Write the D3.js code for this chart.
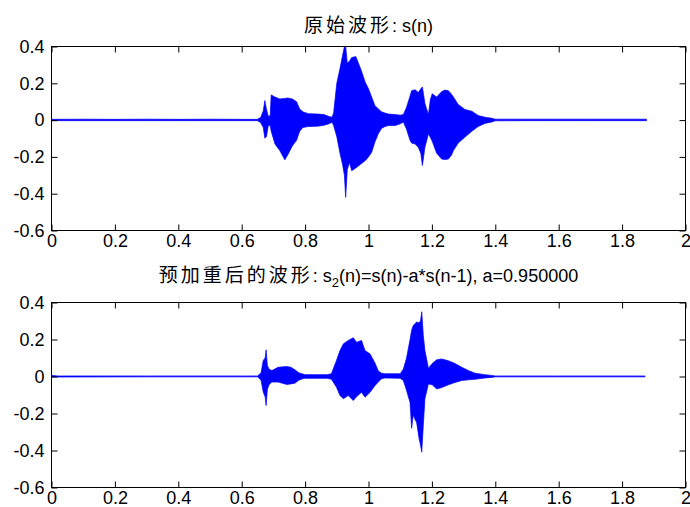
<!DOCTYPE html>
<html>
<head>
<meta charset="utf-8">
<script src="https://cdn.jsdelivr.net/npm/d3@7/dist/d3.min.js"></script>
<style>
  body { margin: 0; background: #fff; }
  text { font-family: "Liberation Sans", Arial, sans-serif; }
</style>
</head>
<body>
<div id="canvas"></div>
<script>
// tick values
var xTicks = [0, 0.2, 0.4, 0.6, 0.8, 1, 1.2, 1.4, 1.6, 1.8, 2];
var yTicks = [-0.6, -0.4, -0.2, 0, 0.2, 0.4];

// original waveform s(n): envelope (time in s, upper, lower)
var topT  = [0, 0.1, 0.2, 0.3, 0.4, 0.5, 0.6, 0.65, 0.66, 0.668, 0.673, 0.678, 0.684, 0.69, 0.693,
             0.705, 0.72, 0.736, 0.745, 0.76, 0.773, 0.783, 0.793, 0.81, 0.84, 0.86, 0.875, 0.885, 0.89,
             0.9, 0.91, 0.918, 0.924, 0.928, 0.933, 0.94, 0.947, 0.96, 0.975, 0.99, 1.0, 1.01, 1.02, 1.031, 1.041,
             1.052, 1.063, 1.084, 1.1, 1.11, 1.12, 1.131, 1.136, 1.147, 1.157, 1.165, 1.17, 1.178, 1.189, 1.195, 1.201,
             1.215, 1.231, 1.241, 1.252, 1.262, 1.268, 1.283, 1.304, 1.326, 1.346, 1.367, 1.389, 1.4,
             1.5, 1.6, 1.7, 1.8, 1.877];
var topHi = [0.004, 0.005, 0.004, 0.005, 0.004, 0.005, 0.004, 0.004, 0.015, 0.05, 0.106, 0.06, 0.02, 0.025, 0.137,
             0.125, 0.115, 0.118, 0.12, 0.115, 0.10, 0.06, 0.045, 0.035, 0.033, 0.03, 0.02, 0.015, 0.04,
             0.20, 0.28, 0.35, 0.40, 0.40, 0.31, 0.32, 0.34, 0.345, 0.28, 0.205, 0.17, 0.125, 0.08, 0.061, 0.045,
             0.038, 0.033, 0.03, 0.027, 0.03, 0.07, 0.13, 0.16, 0.165, 0.15, 0.17, 0.18, 0.09, 0.03, 0.11, 0.143,
             0.125, 0.155, 0.163, 0.16, 0.14, 0.125, 0.085, 0.058, 0.048, 0.025, 0.016, 0.01, 0.005,
             0.005, 0.005, 0.005, 0.005, 0.005];
var topLo = [-0.003, -0.003, -0.003, -0.003, -0.003, -0.003, -0.003, -0.003, -0.015, -0.04, -0.098, -0.09, -0.03, -0.03, -0.06,
             -0.13, -0.165, -0.216, -0.19, -0.14, -0.11, -0.06, -0.04, -0.035, -0.033, -0.028, -0.02, -0.012, -0.03,
             -0.09, -0.18, -0.24, -0.30, -0.42, -0.27, -0.23, -0.275, -0.26, -0.24, -0.22, -0.20, -0.175, -0.12, -0.074, -0.045,
             -0.035, -0.03, -0.03, -0.02, -0.011, -0.05, -0.11, -0.125, -0.13, -0.147, -0.18, -0.247, -0.147, -0.075, -0.093, -0.115,
             -0.18, -0.212, -0.214, -0.212, -0.19, -0.165, -0.125, -0.093, -0.06, -0.035, -0.018, -0.01, -0.004,
             -0.003, -0.003, -0.003, -0.003, -0.003];

// pre-emphasised waveform s2(n): envelope
var botT  = [0, 0.02, 0.3, 0.6, 0.65, 0.661, 0.668, 0.674, 0.677, 0.681, 0.686, 0.695, 0.715,
             0.742, 0.755, 0.768, 0.78, 0.79, 0.80, 0.87, 0.883, 0.899, 0.91, 0.921, 0.936, 0.952, 0.962, 0.978, 0.989,
             1.005, 1.02, 1.031, 1.041, 1.052, 1.1, 1.11, 1.12, 1.131, 1.136, 1.141, 1.152, 1.159, 1.164, 1.168, 1.173,
             1.178, 1.189, 1.201, 1.215, 1.231, 1.252, 1.273, 1.294, 1.315, 1.336, 1.367, 1.389, 1.4, 1.6, 1.872];
var botHi = [0.006, 0.003, 0.003, 0.003, 0.003, 0.02, 0.087, 0.10, 0.144, 0.06, 0.04, 0.032, 0.05,
             0.054, 0.05, 0.036, 0.02, 0.015, 0.01, 0.01, 0.015, 0.087, 0.14, 0.177, 0.195, 0.21, 0.185, 0.195, 0.14,
             0.122, 0.075, 0.03, 0.018, 0.015, 0.015, 0.04, 0.10, 0.2, 0.25, 0.276, 0.294, 0.29, 0.30, 0.35, 0.22,
             0.14, 0.045, 0.07, 0.09, 0.095, 0.085, 0.07, 0.05, 0.032, 0.018, 0.01, 0.006, 0.003, 0.003, 0.003];
var botLo = [-0.003, -0.003, -0.002, -0.002, -0.002, -0.02, -0.085, -0.11, -0.157, -0.07, -0.045, -0.03, -0.03,
             -0.043, -0.04, -0.036, -0.02, -0.013, -0.01, -0.01, -0.015, -0.058, -0.103, -0.12, -0.103, -0.13, -0.11, -0.085, -0.112,
             -0.085, -0.05, -0.03, -0.012, -0.008, -0.01, -0.022, -0.076, -0.14, -0.28, -0.21, -0.25, -0.33, -0.37, -0.409, -0.26,
             -0.12, -0.04, -0.045, -0.067, -0.06, -0.045, -0.032, -0.022, -0.018, -0.015, -0.008, -0.005, -0.002, -0.002, -0.002];

var outerWidth = 690, outerHeight = 507;

var svg = d3.select('#canvas')
    .append('svg')
    .attr('width', outerWidth)
    .attr('height', outerHeight);

var scaleX = d3.scaleLinear().domain([0, 2]).range([51.5, 685.5]);
var fmt = function(d){ return String(+d.toFixed(1)); };

function drawPanel(id, top, bottom, T, HI, LO, titleY, titleCJK, titleRest){
    var scaleY = d3.scaleLinear().domain([-0.6, 0.4]).range([bottom, top]);
    var rows = T.map(function(t, i){ return {t: t, hi: HI[i], lo: LO[i]}; });

    svg.append('clipPath').attr('id', 'clip-' + id)
        .append('rect')
        .attr('x', scaleX(0)).attr('y', top)
        .attr('width', scaleX(2) - scaleX(0)).attr('height', bottom - top);

    var area = d3.area()
        .x(function(d){ return scaleX(d.t); })
        .y0(function(d){ return scaleY(d.lo); })
        .y1(function(d){ return scaleY(d.hi); });

    svg.append('path')
        .datum(rows)
        .attr('clip-path', 'url(#clip-' + id + ')')
        .attr('d', area)
        .attr('fill', '#0000ff')
        .attr('stroke', '#0000ff')
        .attr('stroke-width', 0.7);

    var axisB = d3.axisBottom(scaleX).tickValues(xTicks).tickFormat(fmt).tickSize(-6).tickSizeOuter(0).tickPadding(4);
    var axisT = d3.axisTop(scaleX).tickValues(xTicks).tickFormat('').tickSize(-6).tickSizeOuter(0);
    var axisL = d3.axisLeft(scaleY).tickValues(yTicks).tickFormat(fmt).tickSize(-6).tickSizeOuter(0).tickPadding(7);
    var axisR = d3.axisRight(scaleY).tickValues(yTicks).tickFormat('').tickSize(-6).tickSizeOuter(0);

    var axes = [
        [axisB, 'translate(0,' + bottom + ')'],
        [axisT, 'translate(0,' + top + ')'],
        [axisL, 'translate(' + scaleX(0) + ',0)'],
        [axisR, 'translate(' + scaleX(2) + ',0)']
    ];
    axes.forEach(function(a){
        var g = svg.append('g').attr('class', 'axis').attr('transform', a[1]).call(a[0]);
        g.select('.domain').remove();
        g.selectAll('text').attr('fill', '#000').style('font-size', '18px')
            .style('font-family', '"Liberation Sans", Arial, sans-serif');
    });

    svg.append('rect')
        .attr('x', scaleX(0)).attr('y', top)
        .attr('width', scaleX(2) - scaleX(0)).attr('height', bottom - top)
        .attr('fill', 'none').attr('stroke', '#000').attr('stroke-width', 1);

    var title = svg.append('text')
        .attr('x', (scaleX(0) + scaleX(2)) / 2)
        .attr('y', titleY)
        .attr('text-anchor', 'middle')
        .style('font-size', '18px')
        .attr('fill', '#000');
    title.append('tspan')
        .style('font-family', '"Noto Sans CJK SC", sans-serif')
        .style('font-size', '19px')
        .style('letter-spacing', '3px')
        .text(titleCJK);
    titleRest.forEach(function(p){
        var ts = title.append('tspan').text(p.text);
        if (p.sub) ts.attr('dy', 5).style('font-size', '13px');
        if (p.up) ts.attr('dy', -5);
    });
}

drawPanel('a', 46.5, 230.5, topT, topHi, topLo, 32, '原始波形', [{text: ': s(n)'}]);
drawPanel('b', 302.5, 487.5, botT, botHi, botLo, 282, '预加重后的波形',
    [{text: ': s'}, {text: '2', sub: true}, {text: '(n)=s(n)-a*s(n-1), a=0.950000', up: true}]);
</script>
</body>
</html>
